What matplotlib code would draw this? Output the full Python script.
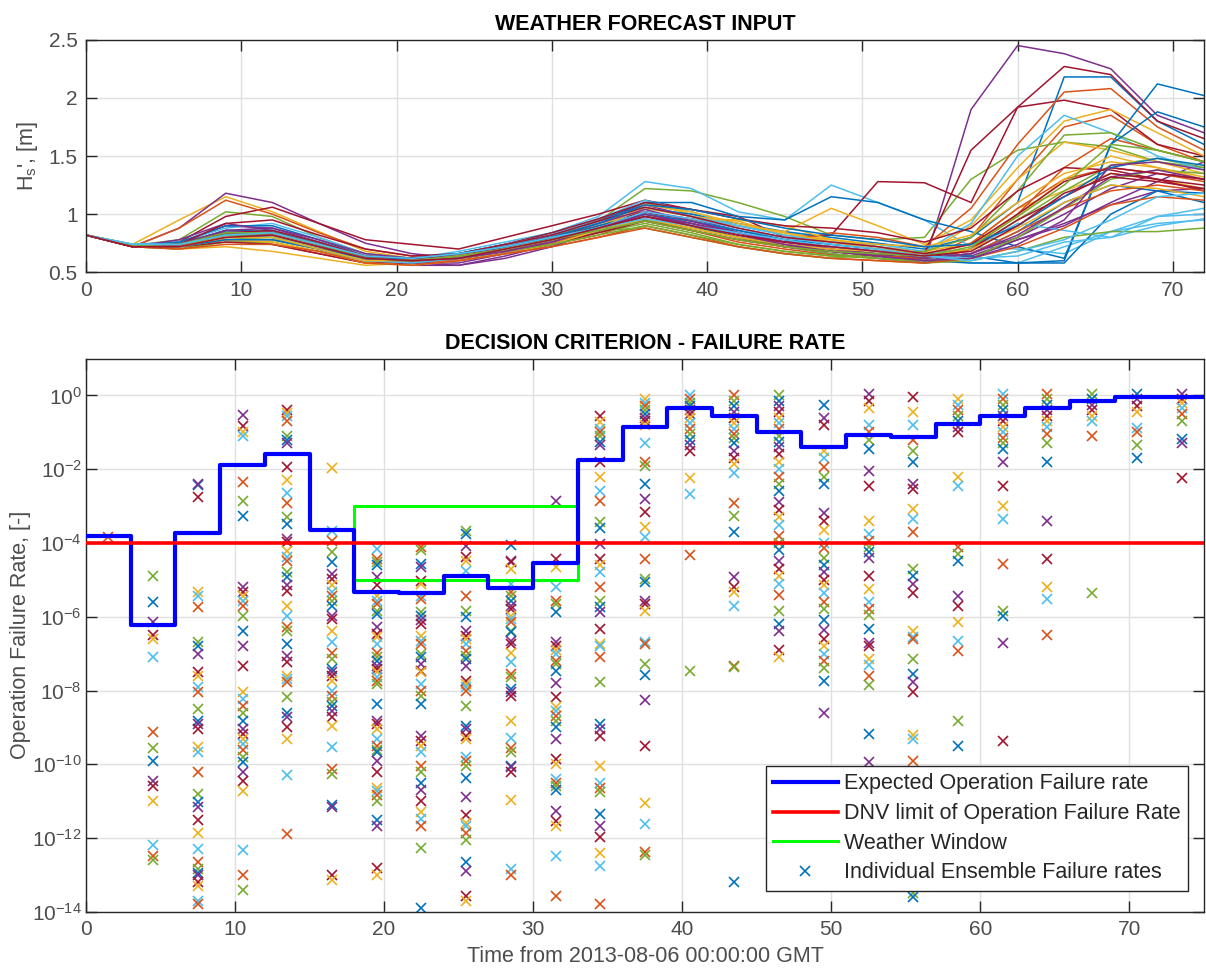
import matplotlib
matplotlib.use("Agg")
import matplotlib.pyplot as plt
import numpy as np
from matplotlib.ticker import FixedLocator, FuncFormatter, NullLocator

plt.rcParams['font.family'] = ['Liberation Sans', 'DejaVu Sans']
plt.rcParams['mathtext.default'] = 'regular'

# MATLAB default colour order
colors = ['#0072BD', '#D95319', '#EDB120', '#7E2F8E', '#77AC30', '#4DBEEE', '#A2142F']

# ---- top panel: ensemble Hs forecasts, every 3 h from 0 to 72 ----
hours = [0, 3, 6, 9, 12, 15, 18, 21, 24, 27, 30, 33, 36, 39, 42, 45, 48, 51, 54, 57, 60, 63, 66, 69, 72]

m00 = [0.82, 0.73, 0.75, 0.85, 0.82, 0.72, 0.62, 0.60, 0.62, 0.70, 0.78, 0.88, 1.00, 0.90, 0.80, 0.72, 0.68, 0.65, 0.62, 0.66, 0.85, 1.10, 1.25, 1.20, 1.10]
m01 = [0.82, 0.72, 0.70, 0.78, 0.74, 0.66, 0.58, 0.58, 0.62, 0.68, 0.74, 0.82, 0.95, 0.86, 0.76, 0.70, 0.65, 0.62, 0.60, 0.80, 1.30, 1.75, 1.85, 1.60, 1.45]
m02 = [0.82, 0.74, 0.95, 1.15, 1.02, 0.85, 0.68, 0.62, 0.64, 0.70, 0.78, 0.92, 1.10, 1.00, 0.90, 0.84, 0.78, 0.72, 0.68, 0.75, 1.05, 1.20, 1.35, 1.30, 1.22]
m03 = [0.82, 0.72, 0.88, 1.18, 1.10, 0.92, 0.75, 0.66, 0.62, 0.68, 0.80, 0.95, 1.08, 0.98, 0.84, 0.74, 0.68, 0.64, 0.58, 1.90, 2.45, 2.38, 2.25, 1.85, 1.70]
m04 = [0.82, 0.73, 0.78, 1.02, 0.98, 0.80, 0.66, 0.62, 0.64, 0.72, 0.80, 0.94, 1.22, 1.20, 1.10, 0.98, 0.82, 0.78, 0.80, 1.30, 1.55, 1.62, 1.58, 1.45, 1.40]
m05 = [0.82, 0.74, 0.74, 0.85, 0.84, 0.75, 0.64, 0.62, 0.66, 0.74, 0.84, 0.98, 1.28, 1.22, 1.02, 0.95, 1.25, 1.10, 0.95, 0.72, 0.70, 0.66, 0.85, 0.98, 1.00]
m06 = [0.82, 0.72, 0.76, 0.98, 1.06, 0.92, 0.78, 0.74, 0.70, 0.80, 0.90, 1.00, 1.12, 1.04, 0.98, 0.80, 0.82, 1.28, 1.27, 1.10, 1.92, 1.98, 1.90, 1.60, 1.50]
m07 = [0.82, 0.73, 0.72, 0.82, 0.86, 0.76, 0.62, 0.58, 0.60, 0.66, 0.74, 0.85, 1.05, 1.00, 0.92, 0.85, 0.80, 0.75, 0.70, 0.80, 1.10, 2.18, 2.18, 1.80, 1.60]
m08 = [0.82, 0.72, 0.88, 1.12, 1.00, 0.84, 0.70, 0.64, 0.64, 0.72, 0.82, 0.95, 1.02, 0.92, 0.82, 0.76, 0.84, 0.80, 0.72, 1.05, 1.60, 2.05, 2.08, 1.75, 1.55]
m09 = [0.82, 0.73, 0.72, 0.80, 0.82, 0.72, 0.60, 0.58, 0.62, 0.68, 0.76, 0.86, 1.00, 0.95, 0.90, 0.85, 1.05, 0.90, 0.74, 0.95, 1.40, 1.80, 1.90, 1.70, 1.50]
m10 = [0.82, 0.73, 0.74, 0.90, 0.88, 0.76, 0.63, 0.58, 0.56, 0.64, 0.74, 0.88, 1.00, 0.90, 0.80, 0.72, 0.66, 0.62, 0.58, 0.62, 0.78, 0.90, 1.10, 1.28, 1.45]
m11 = [0.82, 0.72, 0.70, 0.76, 0.76, 0.68, 0.60, 0.60, 0.64, 0.70, 0.76, 0.84, 0.92, 0.84, 0.74, 0.68, 0.64, 0.64, 0.62, 0.70, 0.95, 1.20, 1.42, 1.48, 1.40]
m12 = [0.82, 0.74, 0.76, 0.88, 0.92, 0.80, 0.66, 0.62, 0.64, 0.72, 0.82, 0.96, 1.12, 1.02, 0.90, 0.82, 0.76, 0.74, 0.68, 0.92, 1.50, 1.85, 1.70, 1.50, 1.38]
m13 = [0.82, 0.72, 0.74, 0.86, 0.85, 0.74, 0.62, 0.60, 0.64, 0.72, 0.80, 0.90, 1.02, 0.94, 0.84, 0.76, 0.72, 0.68, 0.66, 1.55, 1.92, 2.27, 2.20, 1.80, 1.65]
m14 = [0.82, 0.73, 0.76, 0.90, 0.90, 0.78, 0.64, 0.62, 0.66, 0.74, 0.82, 0.94, 1.10, 1.10, 0.98, 0.95, 1.15, 1.10, 0.95, 0.85, 0.72, 0.62, 1.60, 2.12, 2.02]
m15 = [0.82, 0.72, 0.72, 0.78, 0.78, 0.70, 0.60, 0.58, 0.60, 0.66, 0.72, 0.80, 0.90, 0.82, 0.72, 0.66, 0.62, 0.60, 0.58, 0.70, 1.00, 1.40, 1.65, 1.55, 1.45]
m16 = [0.82, 0.74, 0.70, 0.72, 0.68, 0.62, 0.56, 0.58, 0.62, 0.68, 0.76, 0.86, 0.98, 0.96, 0.95, 0.90, 0.78, 0.72, 0.66, 0.90, 1.30, 1.62, 1.55, 1.45, 1.35]
m17 = [0.82, 0.72, 0.78, 0.92, 0.86, 0.74, 0.62, 0.56, 0.56, 0.62, 0.72, 0.86, 1.02, 0.96, 0.86, 0.78, 0.70, 0.64, 0.60, 0.66, 0.80, 1.00, 1.22, 1.35, 1.30]
m18 = [0.82, 0.73, 0.74, 0.84, 0.80, 0.70, 0.60, 0.60, 0.64, 0.70, 0.78, 0.86, 0.88, 0.80, 0.72, 0.66, 0.62, 0.66, 0.68, 0.80, 1.20, 1.68, 1.70, 1.55, 1.45]
m19 = [0.82, 0.74, 0.74, 0.82, 0.82, 0.72, 0.62, 0.62, 0.68, 0.76, 0.84, 0.92, 1.00, 0.94, 0.86, 0.80, 0.74, 0.70, 0.62, 0.58, 0.58, 0.72, 0.85, 0.92, 0.95]
m20 = [0.82, 0.72, 0.74, 0.92, 0.95, 0.82, 0.70, 0.64, 0.66, 0.74, 0.84, 0.96, 1.10, 1.04, 0.96, 0.90, 0.88, 0.84, 0.76, 0.88, 1.20, 1.40, 1.38, 1.30, 1.25]
m21 = [0.82, 0.73, 0.74, 0.86, 0.86, 0.74, 0.62, 0.60, 0.62, 0.68, 0.76, 0.88, 0.98, 0.90, 0.80, 0.72, 0.68, 0.64, 0.60, 0.58, 0.58, 0.60, 1.60, 1.88, 1.75]
m22 = [0.82, 0.72, 0.72, 0.82, 0.84, 0.74, 0.64, 0.62, 0.64, 0.70, 0.78, 0.88, 0.96, 0.88, 0.80, 0.74, 0.70, 0.66, 0.64, 0.75, 1.05, 1.30, 1.40, 1.35, 1.28]
m23 = [0.82, 0.73, 0.74, 0.80, 0.80, 0.70, 0.60, 0.58, 0.62, 0.70, 0.78, 0.90, 1.05, 0.98, 0.94, 0.82, 0.78, 0.74, 0.72, 0.82, 1.10, 1.35, 1.45, 1.40, 1.32]
m24 = [0.82, 0.72, 0.74, 0.84, 0.82, 0.72, 0.62, 0.58, 0.58, 0.66, 0.74, 0.86, 0.98, 0.92, 0.84, 0.76, 0.70, 0.66, 0.60, 0.64, 0.78, 0.92, 1.08, 1.20, 1.22]
m25 = [0.82, 0.73, 0.72, 0.80, 0.78, 0.70, 0.62, 0.62, 0.66, 0.72, 0.80, 0.88, 0.95, 0.88, 0.80, 0.72, 0.66, 0.62, 0.60, 0.62, 0.80, 1.05, 1.30, 1.38, 1.35]
m26 = [0.82, 0.74, 0.74, 0.84, 0.86, 0.76, 0.64, 0.62, 0.66, 0.74, 0.82, 0.94, 1.06, 0.98, 0.90, 0.82, 0.76, 0.72, 0.66, 0.70, 0.92, 0.86, 0.80, 0.90, 0.96]
m27 = [0.82, 0.72, 0.72, 0.76, 0.74, 0.66, 0.58, 0.58, 0.62, 0.68, 0.74, 0.84, 0.94, 0.86, 0.78, 0.72, 0.68, 0.64, 0.62, 0.70, 0.95, 1.15, 1.35, 1.30, 1.20]
m28 = [0.82, 0.73, 0.74, 0.82, 0.80, 0.70, 0.60, 0.60, 0.64, 0.70, 0.78, 0.90, 1.00, 0.94, 0.86, 0.78, 0.74, 0.70, 0.66, 0.64, 0.58, 0.58, 1.00, 1.20, 1.18]
m29 = [0.82, 0.72, 0.74, 0.84, 0.84, 0.74, 0.64, 0.60, 0.62, 0.68, 0.76, 0.86, 0.94, 0.86, 0.78, 0.72, 0.68, 0.64, 0.62, 0.66, 0.85, 1.05, 1.20, 1.25, 1.20]
m30 = [0.82, 0.74, 0.72, 0.78, 0.76, 0.68, 0.58, 0.56, 0.60, 0.66, 0.74, 0.86, 1.08, 1.02, 0.92, 0.84, 0.76, 0.70, 0.66, 0.74, 0.98, 1.30, 1.50, 1.40, 1.30]
m31 = [0.82, 0.72, 0.74, 0.86, 0.88, 0.78, 0.66, 0.62, 0.64, 0.72, 0.80, 0.92, 1.04, 0.94, 0.84, 0.76, 0.72, 0.68, 0.62, 0.66, 0.82, 1.06, 1.32, 1.38, 1.30]
m32 = [0.82, 0.73, 0.74, 0.82, 0.82, 0.72, 0.62, 0.60, 0.62, 0.68, 0.74, 0.82, 0.90, 0.82, 0.74, 0.68, 0.64, 0.62, 0.58, 0.60, 0.68, 0.80, 0.85, 0.85, 0.88]
m33 = [0.82, 0.74, 0.72, 0.80, 0.80, 0.70, 0.60, 0.58, 0.62, 0.70, 0.78, 0.88, 1.02, 0.96, 0.88, 0.80, 0.74, 0.70, 0.64, 0.62, 0.64, 0.76, 0.80, 0.98, 1.05]
m34 = [0.82, 0.72, 0.74, 0.84, 0.86, 0.76, 0.64, 0.62, 0.66, 0.74, 0.82, 0.94, 1.06, 0.98, 0.88, 0.80, 0.76, 0.72, 0.66, 0.74, 1.00, 1.28, 1.40, 1.35, 1.30]
m35 = [0.82, 0.73, 0.72, 0.78, 0.78, 0.70, 0.62, 0.62, 0.66, 0.72, 0.80, 0.92, 1.08, 1.04, 0.96, 0.88, 0.82, 0.78, 0.72, 0.74, 0.90, 1.15, 1.40, 1.48, 1.42]
m36 = [0.82, 0.72, 0.70, 0.74, 0.74, 0.68, 0.58, 0.56, 0.60, 0.66, 0.72, 0.80, 0.88, 0.80, 0.72, 0.66, 0.62, 0.60, 0.58, 0.62, 0.72, 0.88, 1.08, 1.15, 1.12]
m37 = [0.82, 0.73, 0.72, 0.80, 0.80, 0.70, 0.60, 0.60, 0.64, 0.70, 0.78, 0.86, 0.96, 0.88, 0.80, 0.74, 0.70, 0.68, 0.64, 0.70, 0.88, 1.10, 1.25, 1.22, 1.15]
m38 = [0.82, 0.72, 0.74, 0.84, 0.84, 0.74, 0.62, 0.60, 0.62, 0.68, 0.76, 0.88, 1.00, 0.92, 0.82, 0.74, 0.68, 0.64, 0.60, 0.62, 0.74, 0.95, 1.42, 1.45, 1.38]
m39 = [0.82, 0.73, 0.74, 0.84, 0.84, 0.74, 0.62, 0.60, 0.64, 0.70, 0.78, 0.86, 0.94, 0.86, 0.78, 0.72, 0.68, 0.66, 0.64, 0.72, 0.98, 1.25, 1.60, 1.55, 1.45]
m40 = [0.82, 0.74, 0.74, 0.82, 0.84, 0.74, 0.64, 0.62, 0.66, 0.72, 0.80, 0.88, 0.96, 0.90, 0.84, 0.78, 0.72, 0.68, 0.64, 0.60, 0.68, 0.78, 0.95, 1.15, 1.18]
m41 = [0.82, 0.72, 0.72, 0.80, 0.82, 0.72, 0.62, 0.60, 0.62, 0.70, 0.78, 0.88, 0.98, 0.90, 0.82, 0.76, 0.72, 0.68, 0.64, 0.68, 0.90, 1.18, 1.32, 1.28, 1.22]

members = [m00, m01, m02, m03, m04, m05, m06, m07, m08, m09, m10, m11, m12, m13,
           m14, m15, m16, m17, m18, m19, m20, m21, m22, m23, m24, m25, m26, m27,
           m28, m29, m30, m31, m32, m33, m34, m35, m36, m37, m38, m39, m40, m41]

# ---- bottom panel ----
# expected operation failure rate, one value per 3 h block starting at step_start
step_start = [0, 3, 6, 9, 12, 15, 18, 21, 24, 27, 30, 33, 36, 39, 42, 45, 48, 51, 54, 57, 60, 63, 66, 69, 72]
expected_rate = [1.5e-4, 6e-7, 1.9e-4, 1.3e-2, 2.6e-2, 2.3e-4, 4.8e-6, 4.4e-6, 1.3e-5, 6e-6, 2.8e-5, 1.8e-2,
                 0.14, 0.47, 0.27, 0.10, 0.04, 0.083, 0.076, 0.17, 0.28, 0.45, 0.70, 0.88, 0.90]
step_end = 75
dnv_limit = 1e-4
ww_start, ww_end = 18, 33
ww_low, ww_high = 1e-5, 1e-3

# individual ensemble failure rates, log10 values per time column
log_fr_01_5 = [-3.83]
log_fr_04_5 = [-4.9, -5.6, -6.15, -6.5, -6.6, -7.1, -9.13, -9.57, -9.9, -10.46, -10.6, -11.0, -12.2, -12.5, -12.6]
log_fr_07_5 = [-2.44, -2.4, -2.75, -5.33, -5.43, -5.73, -6.68, -6.8, -7.0, -7.5, -7.6, -7.9, -8.05, -8.5, -8.83, -8.9,
               -9.05, -9.54, -9.67, -10.2, -10.8, -11.03, -11.17, -11.5, -11.85, -12.3, -12.66, -12.85, -12.94,
               -13.0, -13.2, -13.3, -13.7, -13.8]
log_fr_10_5 = [-0.52, -0.84, -0.98, -1.11, -2.34, -2.85, -3.28, -5.2, -5.33, -5.43, -5.57, -5.7, -5.97, -6.38, -6.8,
               -7.33, -8.05, -8.23, -8.42, -8.6, -8.83, -9.05, -9.18, -9.32, -9.46, -9.6, -9.8, -9.95, -10.2, -10.46,
               -10.73, -12.33, -13.0, -13.4]
log_fr_13_5 = [-0.4, -0.47, -0.55, -0.7, -1.1, -1.2, -1.3, -1.93, -2.3, -2.64, -2.93, -3.3, -3.48, -3.89, -3.97, -4.23,
               -4.38, -4.48, -4.79, -4.92, -5.15, -5.3, -5.7, -5.97, -6.28, -6.38, -6.74, -7.06, -7.23, -7.6, -7.69,
               -7.78, -8.18, -8.6, -8.72, -9.0, -9.32, -10.3, -11.9]
log_fr_16_5 = [-1.96, -3.67, -3.94, -4.25, -4.52, -4.84, -4.97, -5.15, -5.33, -5.43, -5.57, -5.7, -5.97, -6.06, -6.38,
               -6.68, -6.97, -7.15, -7.42, -7.5, -7.6, -7.74, -8.0, -8.15, -8.3, -8.42, -8.56, -8.72, -8.96, -9.54,
               -10.14, -10.27, -11.1, -11.16, -13.0, -13.15]
log_fr_19_5 = [-4.16, -4.43, -4.52, -4.6, -4.92, -5.15, -5.43, -5.57, -5.65, -5.84, -5.92, -6.28, -6.47, -6.55, -6.74,
               -6.97, -7.1, -7.2, -7.33, -7.42, -7.5, -7.63, -7.74, -7.83, -8.37, -8.83, -8.9, -9.05, -9.32, -9.5,
               -9.6, -9.67, -9.9, -10.2, -10.63, -10.73, -10.82, -11.0, -11.5, -11.68, -12.8, -13.0]
log_fr_22_5 = [-4.1, -4.2, -4.56, -4.65, -5.03, -5.1, -5.43, -5.52, -5.87, -5.97, -6.1, -6.2, -6.52, -6.66, -6.74,
               -7.0, -7.1, -7.28, -7.47, -7.5, -7.83, -8.0, -8.15, -8.37, -9.24, -9.37, -9.5, -9.67, -10.05, -10.2,
               -10.52, -10.7, -11.0, -11.3, -11.47, -11.68, -12.26, -13.9]
log_fr_25_5 = [-3.67, -3.75, -4.07, -4.38, -4.48, -4.75, -5.43, -5.84, -6.0, -6.38, -6.52, -6.6, -6.74, -6.93, -7.06,
               -7.15, -7.33, -7.74, -7.83, -7.9, -8.0, -8.42, -8.96, -9.05, -9.24, -9.32, -9.8, -9.9, -10.05, -10.36,
               -10.9, -11.38, -11.58, -11.68, -11.85, -12.04, -12.66, -12.9, -13.58, -13.7]
log_fr_28_5 = [-4.05, -4.48, -4.52, -4.7, -5.1, -5.33, -5.43, -5.57, -5.7, -5.79, -5.97, -6.06, -6.15, -6.38, -6.42,
               -6.66, -6.74, -6.97, -7.23, -7.55, -7.63, -7.96, -8.05, -8.15, -8.83, -9.3, -9.57, -9.67, -10.05,
               -10.08, -10.2, -10.98, -12.85, -13.0]
log_fr_31_5 = [-2.85, -4.43, -4.65, -5.2, -5.57, -5.65, -5.87, -6.68, -6.8, -6.9, -7.0, -7.2, -7.28, -7.47, -7.8,
               -8.18, -8.45, -8.56, -8.7, -8.83, -9.0, -9.32, -9.86, -10.0, -10.4, -10.5, -10.6, -10.7, -11.27,
               -11.55, -11.68, -12.5, -13.58]
log_fr_34_5 = [-0.57, -0.71, -0.9, -0.98, -1.11, -1.25, -1.35, -1.8, -2.2, -2.58, -2.85, -3.43, -3.6, -4.02, -4.43,
               -4.6, -4.79, -5.2, -5.57, -5.73, -5.87, -6.33, -6.74, -6.8, -7.1, -7.78, -8.9, -9.05, -9.24, -10.05,
               -10.5, -10.63, -10.76, -11.36, -11.68, -11.96, -12.4, -12.77, -13.8]
log_fr_37_5 = [-0.1, -0.2, -0.3, -0.4, -0.5, -0.6, -0.7, -0.8, -1.3, -1.8, -1.9, -2.4, -2.8, -3.16, -3.57, -3.83,
               -4.43, -4.97, -5.06, -5.57, -5.65, -5.84, -6.68, -6.74, -7.28, -7.58, -8.26, -9.5, -11.06, -11.63,
               -12.37, -12.45]
log_fr_40_5 = [0.0, -0.1, -0.2, -0.3, -0.4, -0.5, -0.6, -0.75, -0.9, -1.05, -1.2, -1.35, -1.5, -2.23, -2.66, -4.32,
               -7.47]
log_fr_43_5 = [0.0, -0.15, -0.3, -0.45, -0.6, -0.75, -0.9, -1.05, -1.15, -1.3, -1.5, -1.7, -1.85, -2.1, -2.93, -3.26,
               -3.7, -4.92, -5.2, -5.33, -5.7, -7.33, -7.36, -13.2]
log_fr_46_5 = [0.0, -0.15, -0.3, -0.45, -0.6, -0.75, -0.9, -1.1, -1.25, -1.4, -1.6, -1.8, -2.0, -2.2, -2.4, -2.6,
               -2.9, -3.1, -3.3, -3.5, -3.8, -4.0, -4.2, -4.5, -4.7, -4.9, -5.1, -5.4, -5.84, -6.2, -6.4, -6.9, -7.1]
log_fr_49_5 = [-0.27, -0.6, -0.8, -1.5, -1.7, -1.95, -2.2, -2.4, -3.2, -3.4, -3.65, -4.0, -4.15, -4.4, -4.6, -4.8,
               -5.0, -5.15, -5.35, -5.6, -5.8, -6.1, -6.35, -6.6, -6.8, -7.0, -7.2, -7.4, -7.75, -8.6]
log_fr_52_5 = [0.05, -0.15, -0.35, -0.8, -1.0, -1.2, -1.45, -2.05, -2.45, -3.4, -3.75, -3.95, -4.1, -4.25, -4.4,
               -4.9, -5.25, -5.6, -5.8, -5.95, -6.33, -6.7, -6.8, -7.15, -7.3, -7.6, -7.85, -9.18, -9.95]
log_fr_55_5 = [-0.03, -0.45, -0.8, -1.2, -1.5, -1.8, -2.4, -2.55, -3.07, -3.35, -3.7, -4.7, -4.9, -5.1, -5.35, -6.4,
               -6.55, -6.6, -7.15, -7.55, -7.78, -8.03, -9.2, -9.32, -9.9, -13.5, -13.6]
log_fr_58_5 = [-0.1, -0.25, -0.4, -0.55, -0.7, -0.85, -1.0, -2.2, -2.45, -4.1, -4.3, -4.5, -5.43, -5.7, -6.15, -6.66,
               -6.93, -8.83, -9.5]
log_fr_61_5 = [0.05, -0.1, -0.25, -0.4, -0.55, -0.7, -0.85, -1.0, -1.15, -1.3, -1.45, -1.8, -2.45, -3.0, -3.35,
               -4.56, -5.84, -5.97, -6.7, -9.37]
log_fr_64_5 = [0.05, -0.1, -0.25, -0.4, -0.55, -0.7, -0.85, -1.05, -1.3, -1.8, -3.4, -4.43, -5.2, -5.52, -6.5]
log_fr_67_5 = [0.05, -0.1, -0.25, -0.4, -0.55, -0.7, -1.1, -5.36]
log_fr_70_5 = [0.05, -0.1, -0.3, -0.45, -0.88, -0.98, -1.35, -1.7]
log_fr_73_5 = [0.05, -0.1, -0.2, -0.35, -0.5, -0.7, -1.17, -1.3, -2.25]

fr_hours = [1.5, 4.5, 7.5, 10.5, 13.5, 16.5, 19.5, 22.5, 25.5, 28.5, 31.5, 34.5, 37.5,
            40.5, 43.5, 46.5, 49.5, 52.5, 55.5, 58.5, 61.5, 64.5, 67.5, 70.5, 73.5]
fr_columns = [log_fr_01_5, log_fr_04_5, log_fr_07_5, log_fr_10_5, log_fr_13_5, log_fr_16_5, log_fr_19_5,
              log_fr_22_5, log_fr_25_5, log_fr_28_5, log_fr_31_5, log_fr_34_5, log_fr_37_5, log_fr_40_5,
              log_fr_43_5, log_fr_46_5, log_fr_49_5, log_fr_52_5, log_fr_55_5, log_fr_58_5, log_fr_61_5,
              log_fr_64_5, log_fr_67_5, log_fr_70_5, log_fr_73_5]

axcol = '#262626'
tickcol = '#4d4d4d'
gridcol = '#e0e0e0'


def matlab_style(ax):
    for s in ax.spines.values():
        s.set_color(axcol)
        s.set_linewidth(1.0)
    ax.tick_params(which='both', direction='in', top=True, right=True, length=8,
                   width=1.0, color=axcol, labelcolor=tickcol, labelsize=15, pad=6)
    ax.grid(True, which='major', color=gridcol, linewidth=1.0)
    ax.set_axisbelow(True)


fig = plt.figure(figsize=(12.06, 9.69), dpi=100)

# top panel
ax1 = fig.add_axes([0.0713, 0.719, 0.9270, 0.240])
for i, m in enumerate(members):
    ax1.plot(hours, m, color=colors[i % 7], linewidth=1.1)
ax1.set_xlim(0, 72)
ax1.set_ylim(0.5, 2.5)
ax1.set_xticks([0, 10, 20, 30, 40, 50, 60, 70])
ax1.set_yticks([0.5, 1, 1.5, 2, 2.5])
ax1.yaxis.set_major_formatter(FuncFormatter(lambda v, p: '%g' % v))
ax1.set_ylabel("H$_s$', [m]", fontsize=15.5, color=tickcol, labelpad=6)
ax1.set_title('WEATHER FORECAST INPUT', fontsize=15.5, fontweight='bold', pad=7)
matlab_style(ax1)

# bottom panel
ax2 = fig.add_axes([0.0713, 0.059, 0.9270, 0.571])
for t, col in zip(fr_hours, fr_columns):
    for j, v in enumerate(col):
        ax2.plot(t, 10.0 ** v, linestyle='none', marker='x', markersize=6.5, markeredgewidth=1.2,
                 color=colors[(j * 3 + int(t)) % 7], zorder=1)
ax2.plot([], [], linestyle='none', marker='x', markersize=6.5, markeredgewidth=1.2, color=colors[0],
         label='Individual Ensemble Failure rates')

ww_x = [ww_start, ww_start, ww_end, ww_end, ww_start]
ww_y = [ww_low, ww_high, ww_high, ww_low, ww_low]
ax2.plot(ww_x, ww_y, color='#00ff00', linewidth=2.2, zorder=2, label='Weather Window')

edges = step_start + [step_end]
ax2.step(edges, expected_rate + [expected_rate[-1]], where='post', color='#0000ff', linewidth=3.0,
         zorder=3, label='Expected Operation Failure rate')
ax2.axhline(dnv_limit, color='#ff0000', linewidth=2.6, zorder=4, label='DNV limit of Operation Failure Rate')

ax2.set_yscale('log')
ax2.set_xlim(0, 75)
ax2.set_ylim(1e-14, 1e1)
ax2.set_xticks([0, 10, 20, 30, 40, 50, 60, 70])
ax2.yaxis.set_major_locator(FixedLocator([10.0 ** k for k in range(-14, 1, 2)]))
ax2.yaxis.set_minor_locator(NullLocator())
ax2.yaxis.set_major_formatter(FuncFormatter(lambda v, p: '$10^{%d}$' % round(np.log10(v))))
matlab_style(ax2)
ax2.tick_params(axis='y', pad=3)
ax2.set_ylabel('Operation Failure Rate, [-]', fontsize=15.5, color=tickcol, labelpad=1)
ax2.set_xlabel('Time from 2013-08-06 00:00:00 GMT', fontsize=15.5, color=tickcol, labelpad=5)
ax2.set_title('DECISION CRITERION - FAILURE RATE', fontsize=15.5, fontweight='bold', pad=7)

h, l = ax2.get_legend_handles_labels()
order = [2, 3, 1, 0]
leg = ax2.legend([h[i] for i in order], [l[i] for i in order], loc='lower right',
                 bbox_to_anchor=(0.986, 0.038), borderaxespad=0, fontsize=15.5, fancybox=False,
                 framealpha=1, edgecolor=axcol, handlelength=3.0, handletextpad=0.3,
                 labelspacing=0.4, borderpad=0.35)
leg.get_frame().set_linewidth(1.0)
for txt in leg.get_texts():
    txt.set_color(axcol)

fig.savefig('out.png', dpi=100)
